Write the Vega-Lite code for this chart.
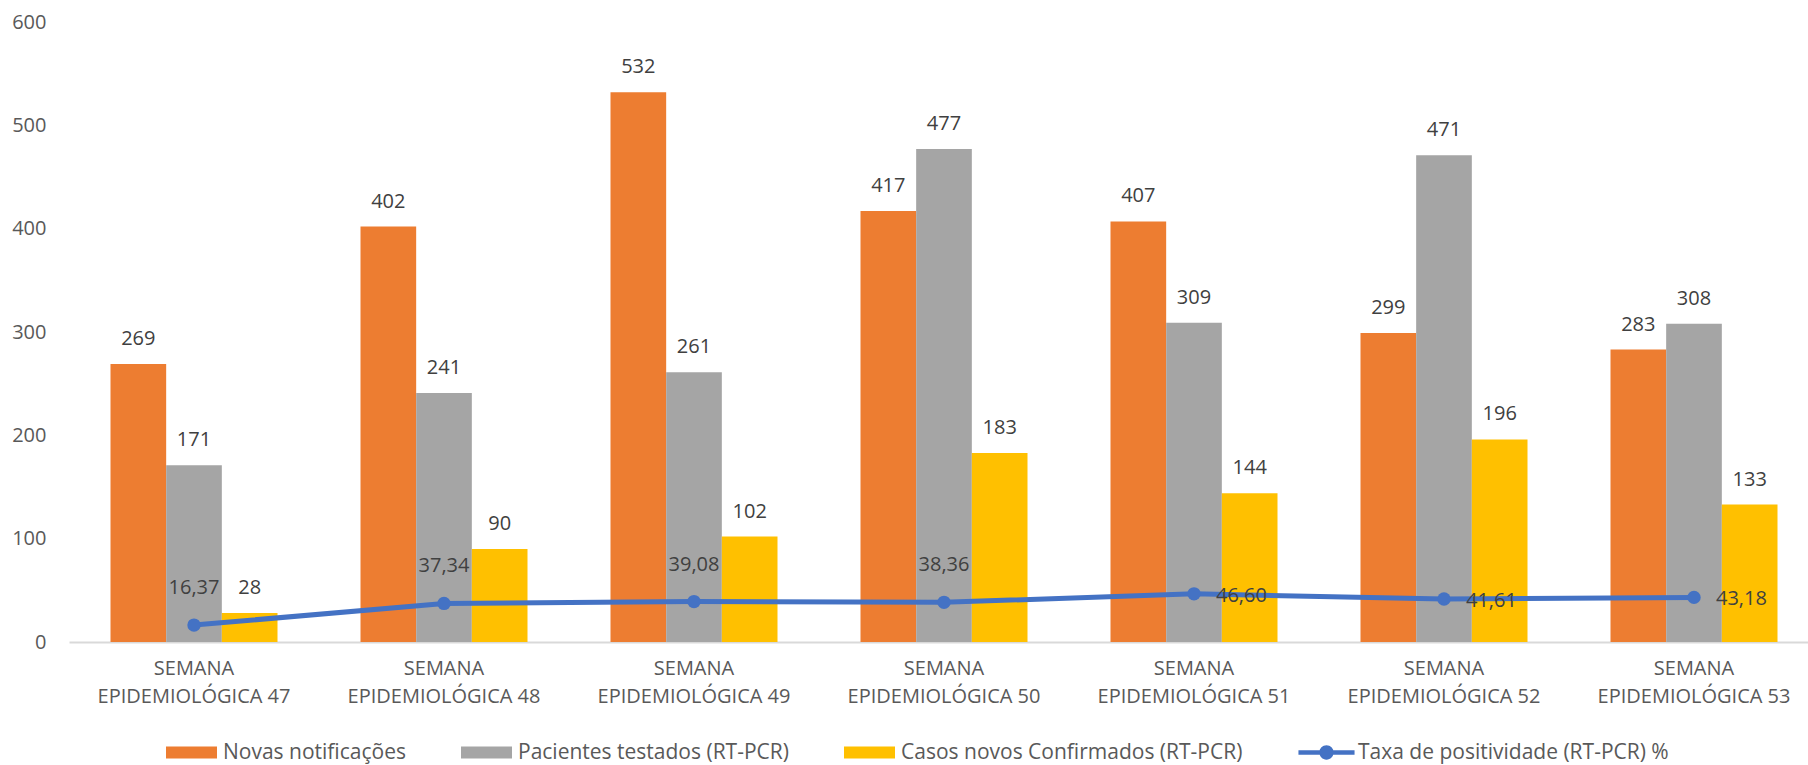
{
  "$schema": "https://vega.github.io/schema/vega-lite/v6.json",
  "width": 1750,
  "height": 620,
  "autosize": {"type": "none"},
  "padding": {"left": 69, "top": 22, "right": 0, "bottom": 123},
  "background": "white",
  "config": {
    "font": "Open Sans",
    "view": {"stroke": null},
    "locale": {"number": {"decimal": ",", "thousands": ".", "grouping": [3], "currency": ["R$", ""]}}
  },
  "datasets": {
    "bars": [
      {"week": "SEMANA EPIDEMIOLÓGICA 47", "series": "Novas notificações", "value": 269},
      {"week": "SEMANA EPIDEMIOLÓGICA 47", "series": "Pacientes testados (RT-PCR)", "value": 171},
      {"week": "SEMANA EPIDEMIOLÓGICA 47", "series": "Casos novos Confirmados (RT-PCR)", "value": 28},
      {"week": "SEMANA EPIDEMIOLÓGICA 48", "series": "Novas notificações", "value": 402},
      {"week": "SEMANA EPIDEMIOLÓGICA 48", "series": "Pacientes testados (RT-PCR)", "value": 241},
      {"week": "SEMANA EPIDEMIOLÓGICA 48", "series": "Casos novos Confirmados (RT-PCR)", "value": 90},
      {"week": "SEMANA EPIDEMIOLÓGICA 49", "series": "Novas notificações", "value": 532},
      {"week": "SEMANA EPIDEMIOLÓGICA 49", "series": "Pacientes testados (RT-PCR)", "value": 261},
      {"week": "SEMANA EPIDEMIOLÓGICA 49", "series": "Casos novos Confirmados (RT-PCR)", "value": 102},
      {"week": "SEMANA EPIDEMIOLÓGICA 50", "series": "Novas notificações", "value": 417},
      {"week": "SEMANA EPIDEMIOLÓGICA 50", "series": "Pacientes testados (RT-PCR)", "value": 477},
      {"week": "SEMANA EPIDEMIOLÓGICA 50", "series": "Casos novos Confirmados (RT-PCR)", "value": 183},
      {"week": "SEMANA EPIDEMIOLÓGICA 51", "series": "Novas notificações", "value": 407},
      {"week": "SEMANA EPIDEMIOLÓGICA 51", "series": "Pacientes testados (RT-PCR)", "value": 309},
      {"week": "SEMANA EPIDEMIOLÓGICA 51", "series": "Casos novos Confirmados (RT-PCR)", "value": 144},
      {"week": "SEMANA EPIDEMIOLÓGICA 52", "series": "Novas notificações", "value": 299},
      {"week": "SEMANA EPIDEMIOLÓGICA 52", "series": "Pacientes testados (RT-PCR)", "value": 471},
      {"week": "SEMANA EPIDEMIOLÓGICA 52", "series": "Casos novos Confirmados (RT-PCR)", "value": 196},
      {"week": "SEMANA EPIDEMIOLÓGICA 53", "series": "Novas notificações", "value": 283},
      {"week": "SEMANA EPIDEMIOLÓGICA 53", "series": "Pacientes testados (RT-PCR)", "value": 308},
      {"week": "SEMANA EPIDEMIOLÓGICA 53", "series": "Casos novos Confirmados (RT-PCR)", "value": 133}
    ],
    "rate": [
      {"week": "SEMANA EPIDEMIOLÓGICA 47", "n": 47, "taxa": 16.37},
      {"week": "SEMANA EPIDEMIOLÓGICA 48", "n": 48, "taxa": 37.34},
      {"week": "SEMANA EPIDEMIOLÓGICA 49", "n": 49, "taxa": 39.08},
      {"week": "SEMANA EPIDEMIOLÓGICA 50", "n": 50, "taxa": 38.36},
      {"week": "SEMANA EPIDEMIOLÓGICA 51", "n": 51, "taxa": 46.60},
      {"week": "SEMANA EPIDEMIOLÓGICA 52", "n": 52, "taxa": 41.61},
      {"week": "SEMANA EPIDEMIOLÓGICA 53", "n": 53, "taxa": 43.18}
    ]
  },
  "encoding": {
    "x": {
      "field": "week",
      "type": "nominal",
      "sort": null,
      "scale": {"paddingInner": 0.332, "paddingOuter": 0.166},
      "axis": {
        "title": null,
        "labelAngle": 0,
        "labelExpr": "['SEMANA', slice(datum.label, 7)]",
        "labelFontSize": 20,
        "labelColor": "#595959",
        "labelLineHeight": 28,
        "labelPadding": 16,
        "labelBaseline": "top",
        "labelLimit": 400,
        "ticks": false,
        "domainColor": "#D9D9D9",
        "domainWidth": 2,
        "grid": false
      }
    }
  },
  "layer": [
    {
      "data": {"name": "bars"},
      "mark": {"type": "bar"},
      "encoding": {
        "xOffset": {
          "field": "series",
          "type": "nominal",
          "sort": ["Novas notificações", "Pacientes testados (RT-PCR)", "Casos novos Confirmados (RT-PCR)"],
          "scale": {"paddingInner": 0, "paddingOuter": 0}
        },
        "y": {
          "field": "value",
          "type": "quantitative",
          "stack": null,
          "scale": {"domain": [0, 600], "nice": false},
          "axis": {
            "title": null,
            "values": [0, 100, 200, 300, 400, 500, 600],
            "grid": false,
            "domain": false,
            "ticks": false,
            "labelFontSize": 20,
            "labelColor": "#595959",
            "labelPadding": 23
          }
        },
        "color": {
          "field": "series",
          "type": "nominal",
          "scale": {
            "domain": ["Novas notificações", "Pacientes testados (RT-PCR)", "Casos novos Confirmados (RT-PCR)", "Taxa de positividade (RT-PCR) %"],
            "range": ["#ED7D31", "#A5A5A5", "#FFC000", "#4472C4"]
          },
          "legend": {
            "title": null,
            "orient": "none",
            "direction": "horizontal",
            "legendX": 97,
            "legendY": 705,
            "labelFontSize": 21,
            "labelColor": "#595959",
            "labelOffset": 6,
            "labelLimit": 500,
            "columnPadding": 55,
            "gridAlign": "none",
            "symbolSize": 2601,
            "encode": {
              "symbols": {
                "update": {
                  "shape": {"signal": "datum.value === 'Taxa de positividade (RT-PCR) %' ? 'M-1.1,-0.09H-0.25V0.09H-1.1Z M0.25,-0.09H1.1V0.09H0.25Z M-0.28,0A0.28,0.28 0 1,1 0.28,0A0.28,0.28 0 1,1 -0.28,0Z' : 'M-1,-0.235H1V0.235H-1Z'"},
                  "size": {"value": 2601},
                  "fill": {"scale": "color", "field": "value"},
                  "fillOpacity": {"value": 1},
                  "opacity": {"value": 1},
                  "stroke": {"value": "transparent"},
                  "strokeWidth": {"value": 0}
                }
              }
            }
          }
        }
      }
    },
    {
      "data": {"name": "bars"},
      "mark": {"type": "text", "baseline": "alphabetic", "dy": -19, "fontSize": 20, "color": "#404040"},
      "encoding": {
        "xOffset": {
          "field": "series",
          "type": "nominal",
          "sort": ["Novas notificações", "Pacientes testados (RT-PCR)", "Casos novos Confirmados (RT-PCR)"]
        },
        "y": {"field": "value", "type": "quantitative", "stack": null},
        "text": {"field": "value", "type": "quantitative", "format": "d"}
      }
    },
    {
      "data": {"name": "rate"},
      "mark": {"type": "line", "strokeWidth": 5, "color": "#4472C4"},
      "encoding": {
        "y": {"field": "taxa", "type": "quantitative"},
        "color": {"datum": "Taxa de positividade (RT-PCR) %"}
      }
    },
    {
      "data": {"name": "rate"},
      "mark": {"type": "point", "filled": true, "size": 180, "opacity": 1, "color": "#4472C4"},
      "encoding": {
        "y": {"field": "taxa", "type": "quantitative"}
      }
    },
    {
      "data": {"name": "rate"},
      "transform": [{"filter": "datum.n <= 50"}],
      "mark": {"type": "text", "baseline": "middle", "dy": -37, "fontSize": 20, "color": "#404040"},
      "encoding": {
        "y": {"field": "taxa", "type": "quantitative"},
        "text": {"field": "taxa", "type": "quantitative", "format": ".2f"}
      }
    },
    {
      "data": {"name": "rate"},
      "transform": [{"filter": "datum.n >= 51"}],
      "mark": {"type": "text", "baseline": "middle", "align": "left", "dx": 22, "dy": 2, "fontSize": 20, "color": "#404040"},
      "encoding": {
        "y": {"field": "taxa", "type": "quantitative"},
        "text": {"field": "taxa", "type": "quantitative", "format": ".2f"}
      }
    }
  ]
}
